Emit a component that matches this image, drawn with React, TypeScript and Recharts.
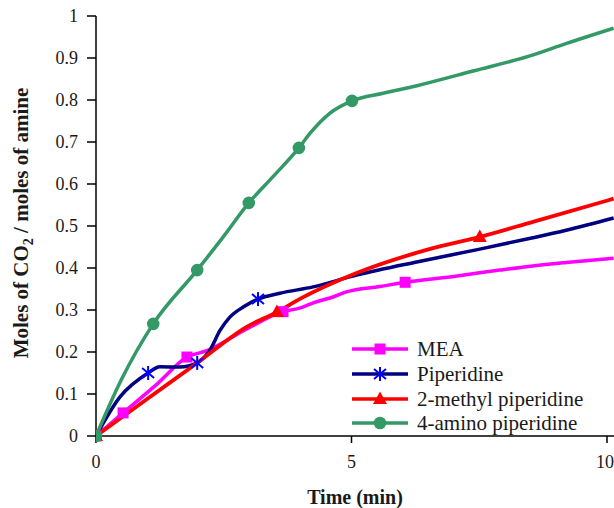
import React from 'react';
import { LineChart, Line, XAxis, YAxis, Legend } from 'recharts';

// ---- data (time in min, loading in mol CO2 / mol amine) ----
const meaTime = [0, 0.53, 1.2, 1.78, 2.17, 2.95, 3.66, 4.0, 4.25, 4.64, 4.9, 5.56, 6.05, 7.0, 7.9, 8.55, 9.2, 10.13];
const meaValue = [0, 0.055, 0.124, 0.188, 0.203, 0.255, 0.296, 0.305, 0.317, 0.331, 0.343, 0.356, 0.366, 0.38, 0.395, 0.405, 0.413, 0.423];
const meaMarkers = [0, 0.53, 1.78, 3.66, 6.05];

const pipTime = [0, 0.47, 1.02, 1.25, 1.64, 1.98, 2.23, 2.43, 2.62, 2.88, 3.17, 3.6, 4.25, 5.1, 6.3, 7.51, 8.55, 9.2, 10.13];
const pipValue = [0, 0.093, 0.15, 0.165, 0.164, 0.174, 0.205, 0.252, 0.283, 0.307, 0.326, 0.34, 0.355, 0.383, 0.415, 0.445, 0.472, 0.49, 0.519];
const pipMarkers = [1.02, 1.98, 3.17];

const mpTime = [0, 1.0, 1.98, 2.95, 3.54, 4.0, 5.1, 6.47, 7.51, 8.55, 10.13];
const mpValue = [0, 0.088, 0.174, 0.26, 0.295, 0.327, 0.388, 0.443, 0.474, 0.51, 0.565];
const mpMarkers = [0, 3.54, 7.51];

const apTime = [0, 0.5, 1.12, 1.98, 2.49, 2.99, 3.46, 3.97, 4.19, 4.58, 5.01, 5.62, 6.28, 7.38, 8.49, 9.21, 10.13];
const apValue = [0, 0.135, 0.267, 0.395, 0.474, 0.555, 0.617, 0.686, 0.721, 0.769, 0.798, 0.816, 0.834, 0.869, 0.905, 0.935, 0.971];
const apMarkers = [0, 1.12, 1.98, 2.99, 3.97, 5.01];

const seriesNames = ['MEA', 'Piperidine', '2-methyl piperidine', '4-amino piperidine'];
const xTicks = [0, 5, 10];
const yTicks = [0, 0.1, 0.2, 0.3, 0.4, 0.5, 0.6, 0.7, 0.8, 0.9, 1];

const build = (times: number[], values: number[], markers: number[]) =>
  times.map((t, i) => ({ t, v: values[i], m: markers.includes(t) }));

const meaData = build(meaTime, meaValue, meaMarkers);
const pipData = build(pipTime, pipValue, pipMarkers);
const mpData = build(mpTime, mpValue, mpMarkers);
const apData = build(apTime, apValue, apMarkers);

const FONT = '"Liberation Serif", "Times New Roman", serif';
const C_MEA = '#FF00FF';
const C_PIP = '#000080';
const C_PIP_M = '#0000FF';
const C_MP = '#FF0000';
const C_AP = '#339966';

type Kind = 'square' | 'star' | 'tri' | 'circle';

const Marker = ({ kind, cx, cy }: { kind: Kind; cx: number; cy: number }) => {
  if (kind === 'square') return <rect x={cx - 5.5} y={cy - 5.5} width={11} height={11} fill={C_MEA} />;
  if (kind === 'star')
    return (
      <g stroke={C_PIP_M} strokeWidth={2}>
        <line x1={cx} y1={cy - 7} x2={cx} y2={cy + 7} />
        <line x1={cx - 6} y1={cy - 5} x2={cx + 6} y2={cy + 5} />
        <line x1={cx - 6} y1={cy + 5} x2={cx + 6} y2={cy - 5} />
      </g>
    );
  if (kind === 'tri')
    return <polygon points={`${cx},${cy - 7.5} ${cx - 7},${cy + 5} ${cx + 7},${cy + 5}`} fill={C_MP} />;
  return <circle cx={cx} cy={cy} r={6.3} fill={C_AP} />;
};

const makeDot = (kind: Kind) => (props: any) => {
  const { cx, cy, payload, index } = props;
  if (!payload || !payload.m || cx == null || cy == null) return <g key={`n-${kind}-${index}`} />;
  return (
    <g key={`d-${kind}-${index}`}>
      <Marker kind={kind} cx={cx} cy={cy} />
    </g>
  );
};

const legendItems: { name: string; color: string; kind: Kind }[] = [
  { name: seriesNames[0], color: C_MEA, kind: 'square' },
  { name: seriesNames[1], color: C_PIP, kind: 'star' },
  { name: seriesNames[2], color: C_MP, kind: 'tri' },
  { name: seriesNames[3], color: C_AP, kind: 'circle' },
];

const LegendContent = () => (
  <div style={{ fontFamily: FONT, fontSize: 21, color: '#1a1a1a' }}>
    {legendItems.map((it) => (
      <div key={it.name} style={{ display: 'flex', alignItems: 'center', height: 24.7 }}>
        <svg width={65} height={20} style={{ display: 'block' }}>
          <line x1={0} y1={10} x2={56} y2={10} stroke={it.color} strokeWidth={3.5} />
          <Marker kind={it.kind} cx={28} cy={10} />
        </svg>
        <span style={{ lineHeight: '20px', whiteSpace: 'nowrap' }}>{it.name}</span>
      </div>
    ))}
  </div>
);

const YTitle = (props: any) => {
  const vb = props.viewBox || { x: 0, y: 16, width: 96, height: 420 };
  const x = 28;
  const y = vb.y + vb.height / 2 - 3;
  return (
    <text
      x={x}
      y={y}
      transform={`rotate(-90, ${x}, ${y})`}
      textAnchor="middle"
      fontFamily={FONT}
      fontWeight="bold"
      fontSize={21}
      fill="#1a1a1a"
    >
      Moles of CO
      <tspan dy={5} fontSize={14}>2</tspan>
      <tspan dy={-5}> / moles of amine</tspan>
    </text>
  );
};

const XTitle = (props: any) => {
  const vb = props.viewBox || { x: 96, y: 436, width: 518, height: 72 };
  return (
    <text
      x={vb.x + vb.width / 2}
      y={vb.y + 68}
      textAnchor="middle"
      fontFamily={FONT}
      fontWeight="bold"
      fontSize={20}
      fill="#1a1a1a"
    >
      Time (min)
    </text>
  );
};

export default function App() {
  return (
    <div style={{ position: 'absolute', left: 0, top: 0, width: 614, height: 508, background: '#fff' }}>
      <LineChart width={614} height={508} margin={{ top: 16, right: 0, left: 0, bottom: 0 }}>
        <XAxis
          type="number"
          dataKey="t"
          domain={[0, 10.137]}
          ticks={xTicks}
          allowDataOverflow
          height={72}
          tickSize={7}
          tickMargin={12}
          axisLine={{ stroke: '#000', strokeWidth: 1.5 }}
          tickLine={{ stroke: '#000', strokeWidth: 1.5 }}
          tick={{ fontFamily: FONT, fontSize: 18, fill: '#1a1a1a' }}
          label={<XTitle />}
        />
        <YAxis
          type="number"
          domain={[0, 1]}
          ticks={yTicks}
          width={96}
          tickSize={9}
          tickMargin={9}
          axisLine={{ stroke: '#000', strokeWidth: 1.5 }}
          tickLine={{ stroke: '#000', strokeWidth: 1.5 }}
          tick={{ fontFamily: FONT, fontSize: 18, fill: '#1a1a1a' }}
          label={<YTitle />}
        />
        <Legend
          layout="horizontal"
          verticalAlign="middle"
          align="center"
          content={<LegendContent />}
          wrapperStyle={{ position: 'absolute', left: 352, top: 337, width: 262, height: 100 }}
        />
        <Line data={meaData} dataKey="v" name={seriesNames[0]} type="monotone" stroke={C_MEA} strokeWidth={3.5}
          dot={makeDot('square')} activeDot={false} isAnimationActive={false} />
        <Line data={pipData} dataKey="v" name={seriesNames[1]} type="monotone" stroke={C_PIP} strokeWidth={3.5}
          dot={makeDot('star')} activeDot={false} isAnimationActive={false} />
        <Line data={mpData} dataKey="v" name={seriesNames[2]} type="monotone" stroke={C_MP} strokeWidth={3.8}
          dot={makeDot('tri')} activeDot={false} isAnimationActive={false} />
        <Line data={apData} dataKey="v" name={seriesNames[3]} type="monotone" stroke={C_AP} strokeWidth={3.5}
          dot={makeDot('circle')} activeDot={false} isAnimationActive={false} />
      </LineChart>
    </div>
  );
}
